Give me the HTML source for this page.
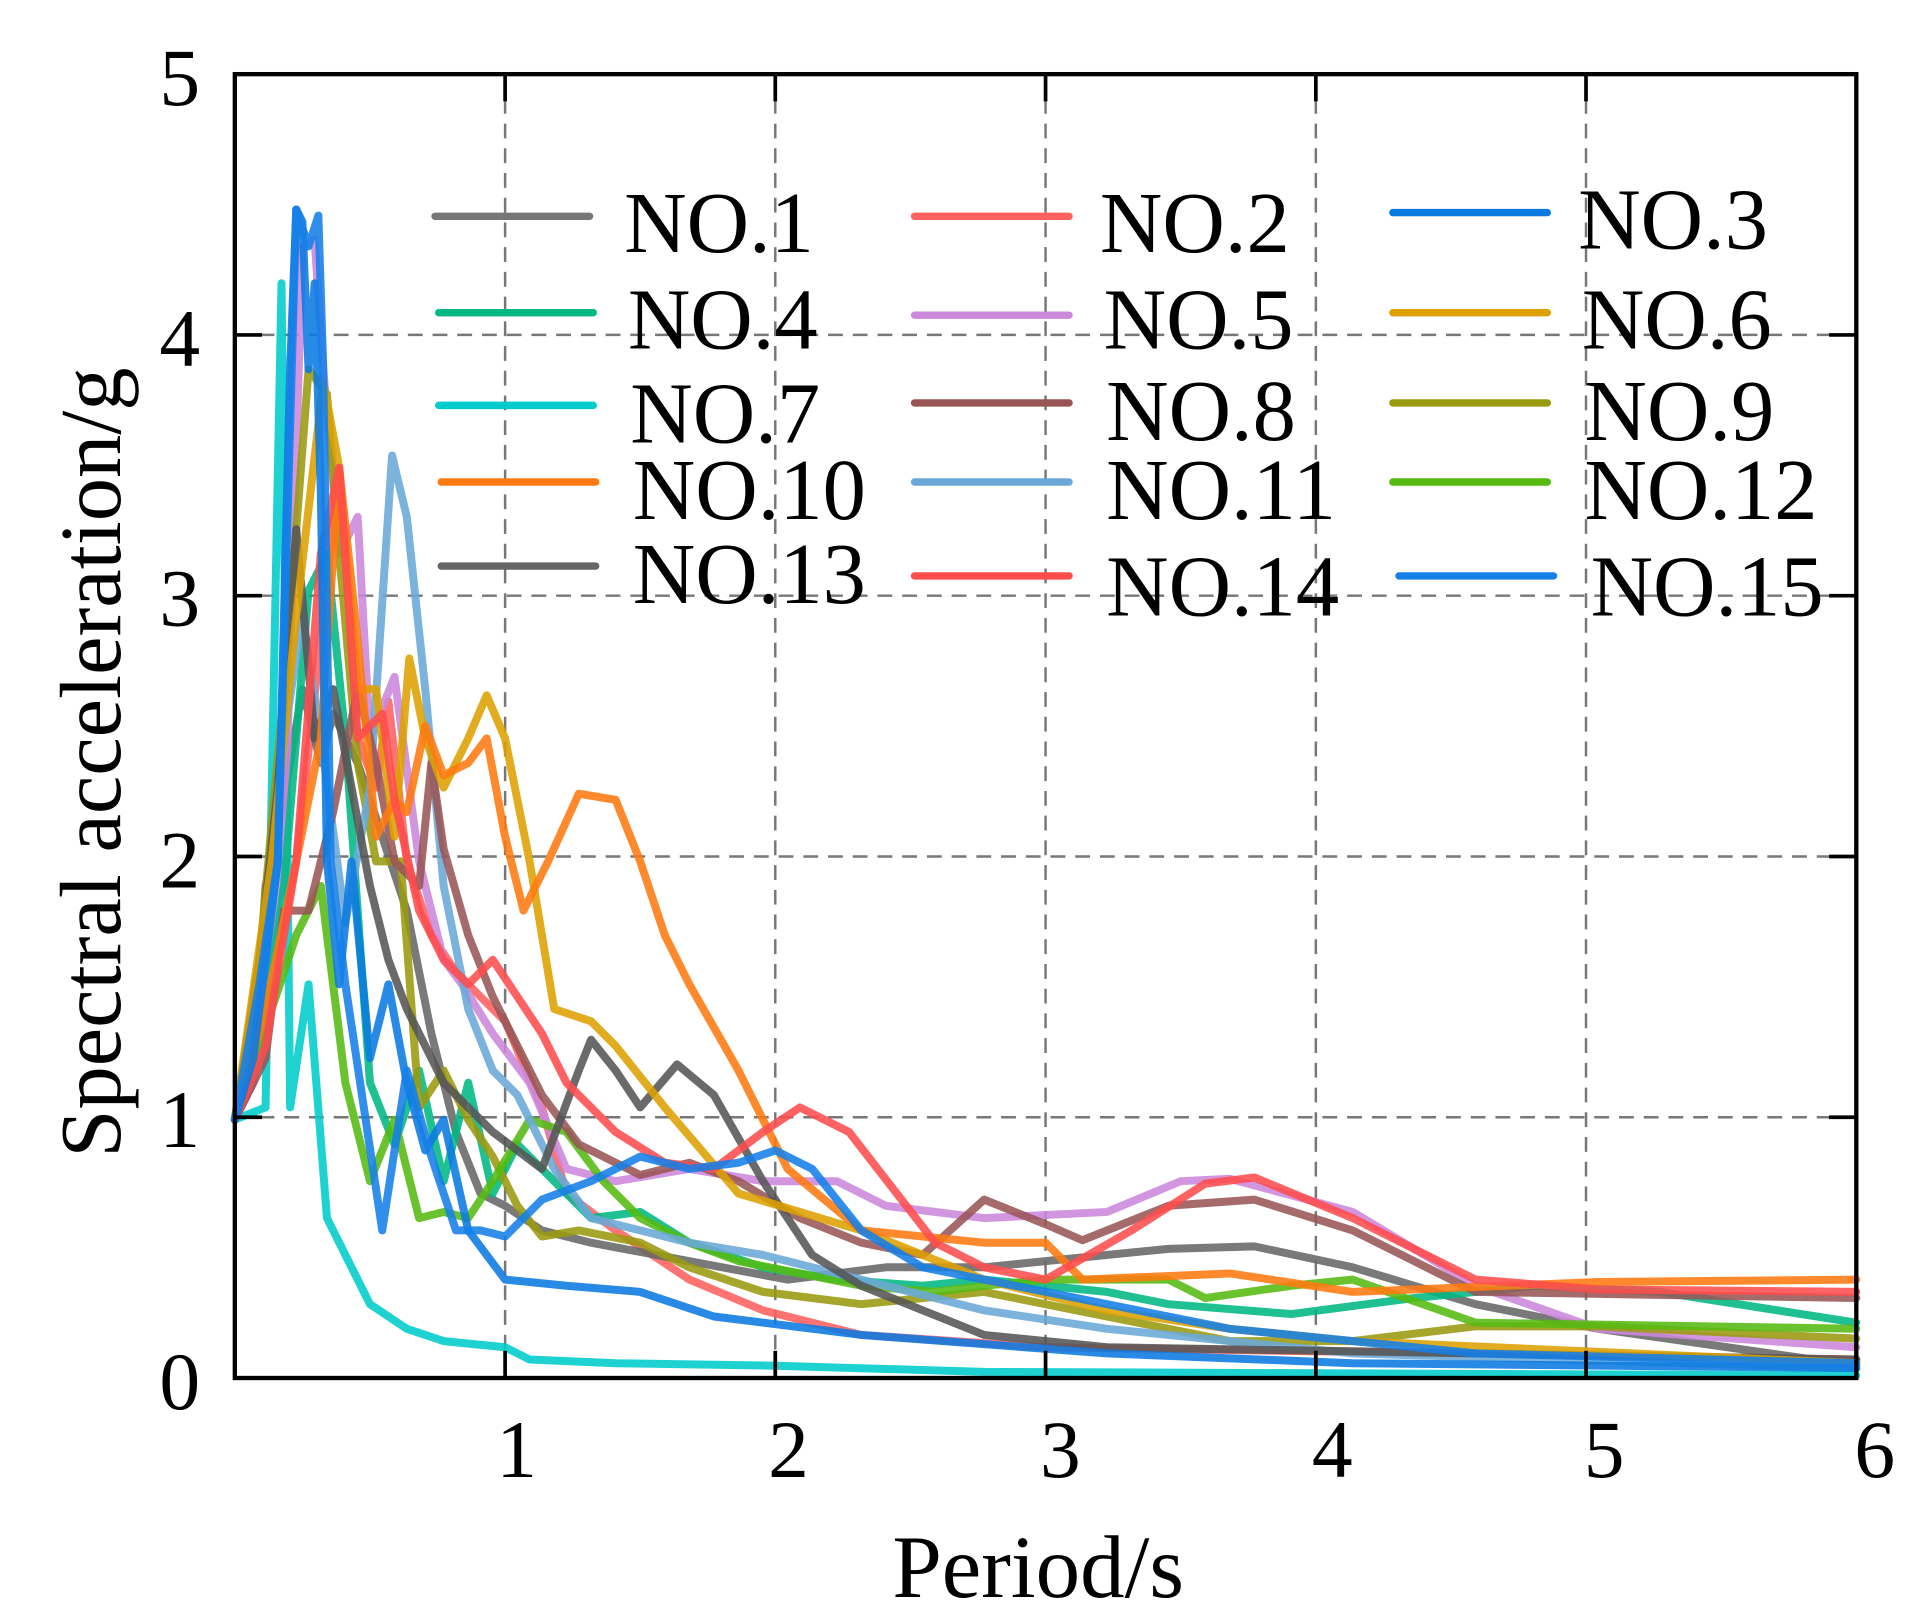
<!DOCTYPE html>
<html><head><meta charset="utf-8"><style>
html,body{margin:0;padding:0;background:#fff}
svg{display:block}
text{font-family:"Liberation Serif",serif;fill:#000}
.s{fill:none;stroke-width:6.5;stroke-linejoin:round;stroke-linecap:round;opacity:0.88}
.g{stroke:#777;stroke-width:2;stroke-dasharray:12,8}
</style></head><body>
<svg width="1928" height="1619" viewBox="0 0 1560 1310" xmlns="http://www.w3.org/2000/svg">
<rect width="1560" height="1310" fill="#fff"/>
<g class="g">
<line x1="408.7" y1="60" x2="408.7" y2="1115"/><line x1="627.3" y1="60" x2="627.3" y2="1115"/><line x1="846" y1="60" x2="846" y2="1115"/><line x1="1064.7" y1="60" x2="1064.7" y2="1115"/><line x1="1283.3" y1="60" x2="1283.3" y2="1115"/>
<line x1="190" y1="271" x2="1502" y2="271"/><line x1="190" y1="482" x2="1502" y2="482"/><line x1="190" y1="693" x2="1502" y2="693"/><line x1="190" y1="904" x2="1502" y2="904"/>
</g>
<g transform="translate(190,60) scale(0.99394,0.99528) translate(-190,-60)">
<polyline class="s" stroke="#00cccc" points="190,910 215,900 228,230 235,900 250,800 265,990 270,1000 300,1060 330,1080 360,1090 410,1095 430,1105 500,1108 630,1110 800,1115 1510,1118"/>
<polyline class="s" stroke="#ff6060" points="190,910 220,800 240,700 260,520 275,380 290,600 305,640 315,570 330,700 350,760 370,790 390,810 410,830 440,900 460,970 500,1000 560,1040 620,1065 700,1085 850,1095 1510,1105"/>
<polyline class="s" stroke="#666" points="190,910 205,880 215,720 230,650 245,560 260,620 270,580 290,620 310,680 330,740 350,840 370,920 390,970 410,980 440,1000 480,1010 560,1025 640,1040 720,1030 800,1030 850,1025 950,1015 1020,1013 1100,1030 1200,1060 1300,1080 1510,1110"/>
<polyline class="s" stroke="#cc88dd" points="190,910 205,880 230,700 245,200 255,195 262,300 275,450 290,420 300,600 320,550 340,700 360,780 375,800 400,840 430,880 460,950 500,960 560,950 620,960 680,960 720,980 800,990 900,985 960,960 1000,958 1100,985 1200,1045 1300,1080 1510,1095"/>
<polyline class="s" stroke="#00b884" points="190,910 210,860 230,720 250,480 265,450 280,600 300,880 320,930 340,870 360,960 380,880 400,970 420,930 440,950 460,970 480,990 520,985 560,1010 620,1030 680,1040 750,1045 800,1040 900,1050 950,1060 1050,1068 1150,1055 1250,1045 1350,1050 1510,1075"/>
<polyline class="s" stroke="#9a9a10" points="190,910 210,780 230,560 250,300 265,320 275,450 290,620 305,700 325,700 340,900 360,870 380,910 400,940 420,980 440,1005 470,1000 520,1010 560,1030 620,1050 700,1060 800,1050 1000,1090 1100,1090 1200,1078 1300,1078 1510,1088"/>
<polyline class="s" stroke="#55bb11" points="190,910 210,850 240,760 260,720 280,880 300,960 320,910 340,990 360,985 380,990 400,960 430,910 460,920 490,960 520,990 560,1010 600,1025 700,1045 760,1050 800,1045 850,1040 950,1040 980,1055 1050,1045 1100,1040 1200,1075 1510,1080"/>
<polyline class="s" stroke="#6aa8d8" points="190,910 210,800 230,600 245,500 260,600 280,750 300,640 318,370 330,420 345,560 360,720 380,820 400,870 420,890 450,950 480,990 520,1000 560,1010 620,1020 700,1040 800,1065 900,1080 1100,1100 1510,1112"/>
<polyline class="s" stroke="#955" points="190,910 215,860 230,740 250,740 270,660 290,560 305,620 320,700 340,720 350,620 360,690 380,760 400,810 420,850 440,890 470,930 520,955 560,945 600,960 650,990 700,1010 750,1020 800,975 850,995 880,1008 950,980 1020,975 1100,1000 1200,1050 1510,1055"/>
<polyline class="s" stroke="#555" points="190,910 210,780 225,640 240,430 255,600 270,560 285,640 300,720 315,780 330,820 360,880 400,920 440,950 470,870 480,845 500,870 520,900 550,865 580,890 620,960 660,1020 700,1045 800,1085 900,1095 1510,1105"/>
<polyline class="s" stroke="#dda000" points="190,910 220,700 240,500 262,310 275,380 290,560 305,560 320,680 332,535 345,600 360,640 380,600 395,565 410,600 430,700 450,820 480,830 500,850 540,900 600,970 700,1000 800,1040 900,1065 1000,1080 1100,1090 1510,1108"/>
<polyline class="s" stroke="#ff7a10" points="190,910 215,820 240,700 260,600 275,380 290,520 305,680 320,650 330,660 345,590 360,630 380,620 395,600 410,680 425,740 445,700 470,645 500,650 520,700 540,760 560,800 600,870 640,950 700,1000 800,1010 850,1010 880,1040 1000,1035 1100,1050 1300,1042 1510,1040"/>
<polyline class="s" stroke="#ff4c4c" points="190,910 215,850 240,700 260,450 275,380 290,600 310,580 320,650 340,740 360,780 380,800 400,780 420,810 440,840 460,880 500,920 540,945 580,950 620,920 650,900 690,920 760,1010 800,1030 850,1040 920,1000 980,962 1020,957 1100,990 1200,1040 1300,1048 1510,1050"/>
<polyline class="s" stroke="#0a7ae0" points="190,910 205,860 215,780 225,700 235,300 240,170 245,180 250,300 255,230 260,400 265,700 275,800 285,700 300,860 315,800 330,880 345,935 360,910 380,1000 410,1040 460,1045 520,1050 580,1070 700,1085 900,1100 1100,1108 1510,1112"/>
<polyline class="s" stroke="#1580e8" points="190,910 210,800 225,700 240,170 250,200 258,175 262,300 268,700 280,800 295,900 310,1000 330,870 350,940 370,1000 390,1000 410,1005 440,975 480,960 520,940 560,950 600,945 630,935 660,950 700,1000 750,1030 800,1040 1000,1080 1200,1100 1510,1108"/>
</g>
<rect x="190" y="60" width="1312" height="1055" fill="none" stroke="#000" stroke-width="3.5"/>
<g stroke="#000" stroke-width="3">
<line x1="190" y1="271" x2="212" y2="271"/><line x1="190" y1="482" x2="212" y2="482"/><line x1="190" y1="693" x2="212" y2="693"/><line x1="190" y1="904" x2="212" y2="904"/>
<line x1="1502" y1="271" x2="1480" y2="271"/><line x1="1502" y1="482" x2="1480" y2="482"/><line x1="1502" y1="693" x2="1480" y2="693"/><line x1="1502" y1="904" x2="1480" y2="904"/>
<line x1="408.7" y1="1115" x2="408.7" y2="1093"/><line x1="627.3" y1="1115" x2="627.3" y2="1093"/><line x1="846" y1="1115" x2="846" y2="1093"/><line x1="1064.7" y1="1115" x2="1064.7" y2="1093"/><line x1="1283.3" y1="1115" x2="1283.3" y2="1093"/>
<line x1="408.7" y1="60" x2="408.7" y2="82"/><line x1="627.3" y1="60" x2="627.3" y2="82"/><line x1="846" y1="60" x2="846" y2="82"/><line x1="1064.7" y1="60" x2="1064.7" y2="82"/><line x1="1283.3" y1="60" x2="1283.3" y2="82"/>
</g>
<g font-size="66" text-anchor="end">
<text x="162" y="1140">0</text><text x="162" y="928">1</text><text x="162" y="718">2</text><text x="162" y="506">3</text><text x="162" y="296">4</text><text x="162" y="85">5</text>
</g>
<g font-size="66" text-anchor="middle">
<text x="418" y="1195">1</text><text x="638" y="1195">2</text><text x="858" y="1195">3</text><text x="1078" y="1195">4</text><text x="1298" y="1195">5</text><text x="1517" y="1195">6</text>
</g>
<text x="840" y="1292" font-size="72" text-anchor="middle">Period/s</text>
<text transform="translate(97,617) rotate(-90)" font-size="70" text-anchor="middle">Spectral acceleration/g</text>
<g stroke-width="6" stroke-linecap="round">
<line x1="352" y1="175" x2="477" y2="175" stroke="#777"/>
<line x1="740" y1="175" x2="865" y2="175" stroke="#ff6060"/>
<line x1="1127" y1="172" x2="1252" y2="172" stroke="#0a7ae0"/>
<line x1="355" y1="253" x2="480" y2="253" stroke="#00b884"/>
<line x1="740" y1="255" x2="865" y2="255" stroke="#cc88dd"/>
<line x1="1127" y1="253" x2="1252" y2="253" stroke="#dda000"/>
<line x1="355" y1="328" x2="480" y2="328" stroke="#00cccc"/>
<line x1="740" y1="326" x2="865" y2="326" stroke="#955"/>
<line x1="1127" y1="326" x2="1252" y2="326" stroke="#9a9a10"/>
<line x1="357" y1="390" x2="482" y2="390" stroke="#ff7a10"/>
<line x1="740" y1="390" x2="865" y2="390" stroke="#6aa8d8"/>
<line x1="1127" y1="390" x2="1252" y2="390" stroke="#55bb11"/>
<line x1="357" y1="458" x2="482" y2="458" stroke="#666"/>
<line x1="740" y1="466" x2="865" y2="466" stroke="#ff4c4c"/>
<line x1="1132" y1="466" x2="1257" y2="466" stroke="#1580e8"/>
</g>
<g font-size="70">
<text x="505" y="204">NO.1</text><text x="890" y="204">NO.2</text><text x="1277" y="201">NO.3</text>
<text x="508" y="282">NO.4</text><text x="893" y="282">NO.5</text><text x="1280" y="282">NO.6</text>
<text x="510" y="358">NO.7</text><text x="895" y="356">NO.8</text><text x="1282" y="356">NO.9</text>
<text x="512" y="420">NO.10</text><text x="895" y="420">NO.11</text><text x="1282" y="420">NO.12</text>
<text x="512" y="488">NO.13</text><text x="895" y="498">NO.14</text><text x="1287" y="498">NO.15</text>
</g>
</svg>
</body></html>
